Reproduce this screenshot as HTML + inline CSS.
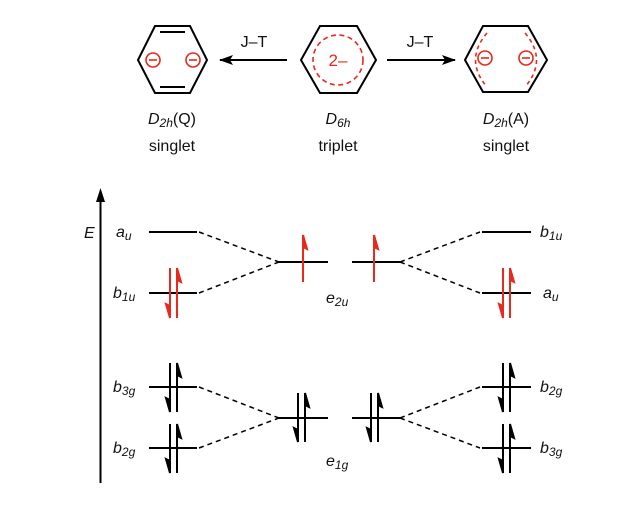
<!DOCTYPE html>
<html><head><meta charset="utf-8"><style>
body{margin:0;background:#fff}
svg{display:block}
text{font-family:"Liberation Sans",Arial,sans-serif;font-size:16px;fill:#111}
.i{font-style:italic}
.r{fill:#e8291c}
</style></head><body>
<svg width="632" height="515" viewBox="0 0 632 515">
<defs>
<marker id="ah" markerWidth="14" markerHeight="10" refX="13" refY="5" orient="auto" markerUnits="userSpaceOnUse"><path d="M0,0 L14,5 L0,10 L3,5Z" fill="#000"/></marker>
</defs>
<g fill="none" stroke="#000" stroke-width="2">
<polygon points="138,60 155,26 190,26 207,60 190,93 155,93"/>
<line x1="160" y1="32" x2="185" y2="32"/>
<line x1="160" y1="87" x2="185" y2="87"/>
<polygon points="301,60 320,26 357,26 376,60 357,93 320,93"/>
<polygon points="465,60 483,26 528,26 547,60 528,92 483,92"/>
<line x1="287" y1="60" x2="220" y2="60" marker-end="url(#ah)"/>
<line x1="387" y1="60" x2="455" y2="60" marker-end="url(#ah)"/>
</g>
<g fill="none" stroke="#e8291c" stroke-width="1.6">
<circle cx="338" cy="60" r="25" stroke-dasharray="5,3.5"/>
<circle cx="153" cy="60" r="7"/><line x1="149" y1="60" x2="157" y2="60"/>
<circle cx="193" cy="60" r="7"/><line x1="189" y1="60" x2="197" y2="60"/>
<circle cx="485" cy="58" r="7"/><line x1="481" y1="58" x2="489" y2="58"/>
<circle cx="526" cy="58" r="7"/><line x1="522" y1="58" x2="530" y2="58"/>
<path d="M487,33 Q464,60 487,87" stroke-dasharray="4,3.5"/>
<path d="M525,33 Q548,60 525,87" stroke-dasharray="4,3.5"/>
</g>
<text x="338" y="66" text-anchor="middle" class="r" style="font-size:17px">2–</text>
<text x="254" y="47" text-anchor="middle">J–T</text>
<text x="420" y="47" text-anchor="middle">J–T</text>
<text x="172" y="124" text-anchor="middle"><tspan class="i">D</tspan><tspan class="i" font-size="12" dy="3">2h</tspan><tspan dy="-3">(Q)</tspan></text>
<text x="172" y="151" text-anchor="middle">singlet</text>
<text x="338" y="124" text-anchor="middle"><tspan class="i">D</tspan><tspan class="i" font-size="12" dy="3">6h</tspan></text>
<text x="338" y="151" text-anchor="middle">triplet</text>
<text x="506" y="124" text-anchor="middle"><tspan class="i">D</tspan><tspan class="i" font-size="12" dy="3">2h</tspan><tspan dy="-3">(A)</tspan></text>
<text x="506" y="151" text-anchor="middle">singlet</text>

<line x1="100.5" y1="483" x2="100.5" y2="198" stroke="#000" stroke-width="2"/>
<path d="M100.5,188 L96,202 L105,202Z" fill="#000"/>
<text x="84" y="238" class="i">E</text>

<g stroke="#000" stroke-width="2">
<line x1="149" y1="232" x2="197" y2="232"/>
<line x1="149" y1="293" x2="197" y2="293"/>
<line x1="149" y1="387" x2="197" y2="387"/>
<line x1="149" y1="448" x2="197" y2="448"/>
<line x1="279" y1="262" x2="328" y2="262"/>
<line x1="352" y1="262" x2="400" y2="262"/>
<line x1="279" y1="418" x2="328" y2="418"/>
<line x1="352" y1="418" x2="400" y2="418"/>
<line x1="482" y1="232" x2="531" y2="232"/>
<line x1="482" y1="293" x2="531" y2="293"/>
<line x1="482" y1="387" x2="531" y2="387"/>
<line x1="482" y1="448" x2="531" y2="448"/>
</g>
<g stroke="#000" stroke-width="1.5" stroke-dasharray="5,4" fill="none">
<line x1="199" y1="232" x2="279" y2="262"/>
<line x1="199" y1="293" x2="279" y2="262"/>
<line x1="400" y1="262" x2="480" y2="232"/>
<line x1="400" y1="262" x2="480" y2="293"/>
<line x1="199" y1="387" x2="279" y2="418"/>
<line x1="199" y1="448" x2="279" y2="418"/>
<line x1="400" y1="418" x2="480" y2="387"/>
<line x1="400" y1="418" x2="480" y2="448"/>
</g>

<g stroke="#e8291c" stroke-width="2" fill="#e8291c">
<line x1="170" y1="268" x2="170" y2="316"/><path d="M170,318 L166,304 L170,306Z"/>
<line x1="177" y1="270" x2="177" y2="318"/><path d="M177,268 L181,282 L177,280Z"/>
<line x1="503" y1="268" x2="503" y2="316"/><path d="M503,318 L499,304 L503,306Z"/>
<line x1="510" y1="270" x2="510" y2="318"/><path d="M510,268 L514,282 L510,280Z"/>
<line x1="303" y1="237" x2="303" y2="282"/><path d="M303,235 L307,249 L303,247Z"/>
<line x1="374" y1="237" x2="374" y2="282"/><path d="M374,235 L378,249 L374,247Z"/>
</g>
<g stroke="#000" stroke-width="2" fill="#000">
<line x1="170" y1="363" x2="170" y2="410"/><path d="M170,412 L166,398 L170,400Z"/>
<line x1="177" y1="365" x2="177" y2="412"/><path d="M177,363 L181,377 L177,375Z"/>
<line x1="170" y1="424" x2="170" y2="471"/><path d="M170,473 L166,459 L170,461Z"/>
<line x1="177" y1="426" x2="177" y2="473"/><path d="M177,424 L181,438 L177,436Z"/>
<line x1="503" y1="363" x2="503" y2="410"/><path d="M503,412 L499,398 L503,400Z"/>
<line x1="510" y1="365" x2="510" y2="412"/><path d="M510,363 L514,377 L510,375Z"/>
<line x1="503" y1="424" x2="503" y2="471"/><path d="M503,473 L499,459 L503,461Z"/>
<line x1="510" y1="426" x2="510" y2="473"/><path d="M510,424 L514,438 L510,436Z"/>
<line x1="298" y1="393" x2="298" y2="440"/><path d="M298,442 L294,428 L298,430Z"/>
<line x1="305" y1="395" x2="305" y2="442"/><path d="M305,393 L309,407 L305,405Z"/>
<line x1="371" y1="393" x2="371" y2="440"/><path d="M371,442 L367,428 L371,430Z"/>
<line x1="378" y1="395" x2="378" y2="442"/><path d="M378,393 L382,407 L378,405Z"/>
</g>

<text x="116" y="237" class="i">a<tspan font-size="12" dy="3">u</tspan></text>
<text x="113" y="298" class="i">b<tspan font-size="12" dy="3">1u</tspan></text>
<text x="113" y="392" class="i">b<tspan font-size="12" dy="3">3g</tspan></text>
<text x="113" y="453" class="i">b<tspan font-size="12" dy="3">2g</tspan></text>
<text x="326" y="303" class="i">e<tspan font-size="12" dy="3">2u</tspan></text>
<text x="326" y="466" class="i">e<tspan font-size="12" dy="3">1g</tspan></text>
<text x="540" y="237" class="i">b<tspan font-size="12" dy="3">1u</tspan></text>
<text x="543" y="298" class="i">a<tspan font-size="12" dy="3">u</tspan></text>
<text x="540" y="392" class="i">b<tspan font-size="12" dy="3">2g</tspan></text>
<text x="540" y="453" class="i">b<tspan font-size="12" dy="3">3g</tspan></text>
</svg>
</body></html>
